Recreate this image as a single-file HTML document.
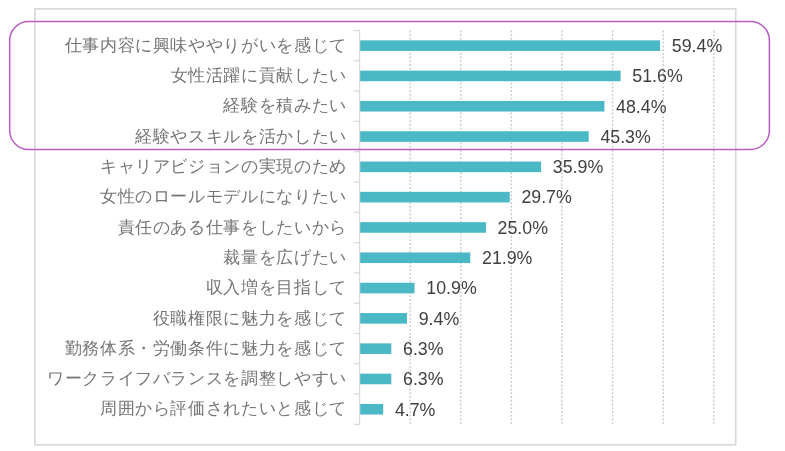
<!DOCTYPE html>
<html><head><meta charset="utf-8"><style>
html,body{margin:0;padding:0;background:#fff;}
body{width:785px;height:451px;position:relative;overflow:hidden;font-family:"Liberation Sans",sans-serif;}
svg{position:absolute;left:0;top:0;}
.c{position:absolute;right:438px;font-size:17.2px;letter-spacing:0.65px;line-height:20px;color:#757575;white-space:nowrap;}
.t{position:absolute;left:0;top:0;width:785px;height:451px;will-change:transform;}
.v{position:absolute;font-size:17.8px;line-height:20px;color:#404040;white-space:nowrap;}
</style></head><body>
<svg width="785" height="451" viewBox="0 0 785 451">
<rect x="34.9" y="8.9" width="700.8" height="436" fill="none" stroke="#d9d9d9" stroke-width="1.7"/>
<g stroke="#c8c8c8" stroke-width="1.4" stroke-dasharray="1.9 1.83"><line x1="410.20" y1="30.5" x2="410.20" y2="424.5" /><line x1="460.80" y1="30.5" x2="460.80" y2="424.5" /><line x1="511.40" y1="30.5" x2="511.40" y2="424.5" /><line x1="562.00" y1="30.5" x2="562.00" y2="424.5" /><line x1="612.60" y1="30.5" x2="612.60" y2="424.5" /><line x1="663.20" y1="30.5" x2="663.20" y2="424.5" /><line x1="713.80" y1="30.5" x2="713.80" y2="424.5" /></g>
<g fill="#4ab9c5"><rect x="359.4" y="40.35" width="300.68" height="10.6" /><rect x="359.4" y="70.65" width="261.20" height="10.6" /><rect x="359.4" y="100.95" width="245.00" height="10.6" /><rect x="359.4" y="131.25" width="229.31" height="10.6" /><rect x="359.4" y="161.55" width="181.73" height="10.6" /><rect x="359.4" y="191.85" width="150.34" height="10.6" /><rect x="359.4" y="222.15" width="126.55" height="10.6" /><rect x="359.4" y="252.45" width="110.86" height="10.6" /><rect x="359.4" y="282.75" width="55.18" height="10.6" /><rect x="359.4" y="313.05" width="47.58" height="10.6" /><rect x="359.4" y="343.35" width="31.89" height="10.6" /><rect x="359.4" y="373.65" width="31.89" height="10.6" /><rect x="359.4" y="403.95" width="23.79" height="10.6" /></g>
<g stroke="#d9d9d9" stroke-width="1.3"><line x1="354" y1="30.50" x2="360" y2="30.50" /><line x1="354" y1="60.80" x2="360" y2="60.80" /><line x1="354" y1="91.10" x2="360" y2="91.10" /><line x1="354" y1="121.40" x2="360" y2="121.40" /><line x1="354" y1="151.70" x2="360" y2="151.70" /><line x1="354" y1="182.00" x2="360" y2="182.00" /><line x1="354" y1="212.30" x2="360" y2="212.30" /><line x1="354" y1="242.60" x2="360" y2="242.60" /><line x1="354" y1="272.90" x2="360" y2="272.90" /><line x1="354" y1="303.20" x2="360" y2="303.20" /><line x1="354" y1="333.50" x2="360" y2="333.50" /><line x1="354" y1="363.80" x2="360" y2="363.80" /><line x1="354" y1="394.10" x2="360" y2="394.10" /><line x1="354" y1="424.40" x2="360" y2="424.40" /><line x1="359.6" y1="30.5" x2="359.6" y2="424.5"/></g>
<rect x="9.7" y="21.5" width="759.7" height="128" rx="19" ry="19" fill="none" stroke="#b95bc2" stroke-width="1.5"/>
</svg>
<div class="t"><div class="c" style="top:34.85px">仕事内容に興味ややりがいを感じて</div><div class="c" style="top:65.15px">女性活躍に貢献したい</div><div class="c" style="top:95.45px">経験を積みたい</div><div class="c" style="top:125.75px">経験やスキルを活かしたい</div><div class="c" style="top:156.05px">キャリアビジョンの実現のため</div><div class="c" style="top:186.35px">女性のロールモデルになりたい</div><div class="c" style="top:216.65px">責任のある仕事をしたいから</div><div class="c" style="top:246.95px">裁量を広げたい</div><div class="c" style="top:277.25px">収入増を目指して</div><div class="c" style="top:307.55px">役職権限に魅力を感じて</div><div class="c" style="top:337.85px">勤務体系・労働条件に魅力を感じて</div><div class="c" style="top:368.15px">ワークライフバランスを調整しやすい</div><div class="c" style="top:398.45px">周囲から評価されたいと感じて</div>
<div class="v" style="left:671.8px;top:35.95px">59.4%</div><div class="v" style="left:632.3px;top:66.25px">51.6%</div><div class="v" style="left:616.1px;top:96.55px">48.4%</div><div class="v" style="left:600.4px;top:126.85px">45.3%</div><div class="v" style="left:552.8px;top:157.15px">35.9%</div><div class="v" style="left:521.4px;top:187.45px">29.7%</div><div class="v" style="left:497.6px;top:217.75px">25.0%</div><div class="v" style="left:482.0px;top:248.05px">21.9%</div><div class="v" style="left:426.3px;top:278.35px">10.9%</div><div class="v" style="left:418.7px;top:308.65px">9.4%</div><div class="v" style="left:403.0px;top:338.95px">6.3%</div><div class="v" style="left:403.0px;top:369.25px">6.3%</div><div class="v" style="left:394.9px;top:399.55px">4.7%</div></div>
</body></html>
